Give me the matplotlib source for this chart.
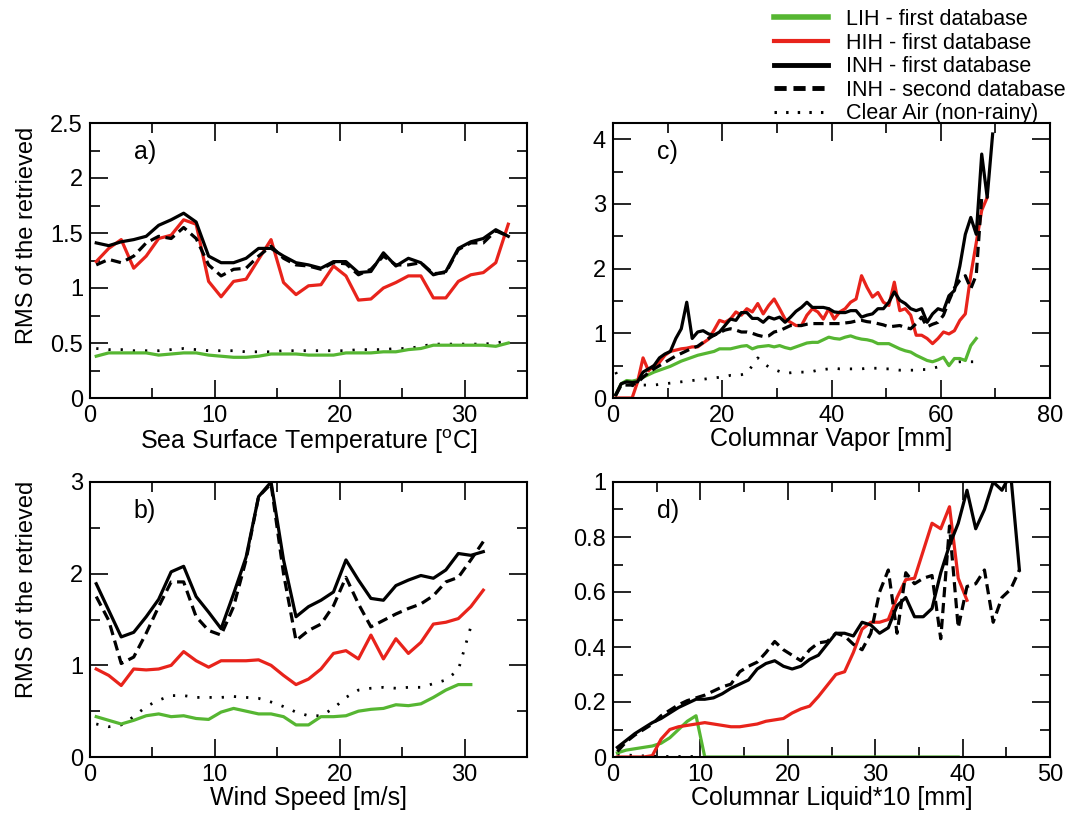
import numpy as np
import matplotlib
matplotlib.use('Agg')
import matplotlib.pyplot as plt
from matplotlib.ticker import MultipleLocator, FormatStrFormatter
from matplotlib.lines import Line2D

plt.rcParams['font.family'] = ['Liberation Sans', 'DejaVu Sans']
plt.rcParams['mathtext.fontset'] = 'custom'
plt.rcParams['mathtext.rm'] = 'Liberation Sans'

nan = np.nan

# Panel a) Sea surface temperature bins (1 degC, centred)
sst = np.arange(0.5, 34.0, 1.0)
a_lih = [0.38, 0.41, 0.41, 0.41, 0.41, 0.39, 0.40, 0.41, 0.41, 0.39, 0.38, 0.37,
         0.37, 0.38, 0.40, 0.40, 0.40, 0.39, 0.39, 0.39, 0.41, 0.41, 0.41, 0.42,
         0.42, 0.44, 0.45, 0.48, 0.48, 0.48, 0.48, 0.48, 0.47, 0.50]
a_hih = [1.24, 1.36, 1.44, 1.18, 1.29, 1.45, 1.48, 1.62, 1.58, 1.06, 0.92, 1.06,
         1.08, 1.26, 1.44, 1.05, 0.94, 1.02, 1.03, 1.20, 1.11, 0.89, 0.90, 1.00,
         1.05, 1.11, 1.11, 0.91, 0.91, 1.06, 1.12, 1.14, 1.23, 1.58]
a_inh1 = [1.41, 1.385, 1.42, 1.44, 1.47, 1.57, 1.62, 1.68, 1.60, 1.29, 1.23, 1.23,
          1.27, 1.36, 1.36, 1.29, 1.23, 1.21, 1.18, 1.24, 1.24, 1.14, 1.15, 1.32,
          1.20, 1.27, 1.23, 1.12, 1.15, 1.36, 1.42, 1.45, 1.53, 1.47]
a_inh2 = [1.21, 1.26, 1.23, 1.29, 1.41, 1.47, 1.45, 1.55, 1.45, 1.21, 1.11, 1.17,
          1.18, 1.29, 1.38, 1.27, 1.21, 1.20, 1.17, 1.23, 1.22, 1.12, 1.17, 1.29,
          1.21, 1.21, 1.23, 1.13, 1.14, 1.35, 1.41, 1.41, 1.52, 1.47]
a_clear = [0.45, 0.44, 0.44, 0.43, 0.43, 0.43, 0.44, 0.45, 0.44, 0.43, 0.43, 0.43,
           0.42, 0.42, 0.42, 0.43, 0.43, 0.43, 0.43, 0.43, 0.43, 0.44, 0.44, 0.44,
           0.45, 0.45, 0.47, 0.49, 0.49, 0.49, 0.49, 0.49, 0.50, 0.52]

# Panel b) Wind speed bins
ws = np.arange(0.5, 32.0, 1.0)
b_lih = [0.44, 0.40, 0.36, 0.40, 0.45, 0.47, 0.44, 0.45, 0.42, 0.41, 0.49, 0.53,
         0.50, 0.47, 0.47, 0.44, 0.35, 0.35, 0.44, 0.44, 0.45, 0.50, 0.52, 0.53,
         0.57, 0.56, 0.58, 0.65, 0.73, 0.79, 0.79, nan]
b_hih = [0.96, 0.89, 0.78, 0.96, 0.95, 0.96, 1.00, 1.15, 1.05, 0.98, 1.05, 1.05,
         1.05, 1.06, 1.00, 0.89, 0.79, 0.85, 0.96, 1.13, 1.16, 1.07, 1.33, 1.07,
         1.29, 1.13, 1.25, 1.45, 1.47, 1.51, 1.64, 1.82]
b_inh1 = [1.89, 1.60, 1.31, 1.36, 1.53, 1.72, 2.02, 2.08, 1.75, 1.58, 1.40, 1.78,
          2.18, 2.84, 3.00, 2.15, 1.53, 1.64, 1.71, 1.80, 2.15, 1.93, 1.73, 1.71,
          1.87, 1.93, 1.98, 1.95, 2.04, 2.22, 2.20, 2.24]
b_inh2 = [1.75, 1.49, 1.02, 1.09, 1.35, 1.64, 1.91, 1.91, 1.53, 1.38, 1.33, 1.64,
          2.15, 2.84, 2.98, 2.00, 1.27, 1.38, 1.45, 1.65, 1.96, 1.67, 1.42, 1.49,
          1.56, 1.62, 1.67, 1.76, 1.91, 1.96, 2.15, 2.35]
b_clear = [0.36, 0.33, 0.35, 0.44, 0.55, 0.62, 0.67, 0.67, 0.65, 0.65, 0.65, 0.66,
           0.65, 0.64, 0.60, 0.55, 0.49, 0.45, 0.45, 0.53, 0.65, 0.73, 0.75, 0.76,
           0.75, 0.76, 0.76, 0.80, 0.84, 0.95, 1.42, nan]

# Panel c) Columnar vapor bins
cv = np.arange(0.5, 70.0, 1.0)
c_lih = [0.05, 0.22, 0.27, 0.26, 0.28, 0.32, 0.36, 0.40, 0.43, 0.46, 0.49, 0.53,
         0.57, 0.60, 0.63, 0.66, 0.68, 0.70, 0.72, 0.76, 0.76, 0.76, 0.78, 0.80,
         0.81, 0.76, 0.79, 0.80, 0.81, 0.79, 0.81, 0.78, 0.76, 0.79, 0.82, 0.85,
         0.86, 0.86, 0.90, 0.94, 0.92, 0.91, 0.94, 0.96, 0.93, 0.91, 0.90, 0.88,
         0.84, 0.84, 0.84, 0.80, 0.76, 0.73, 0.71, 0.66, 0.62, 0.58, 0.56, 0.59,
         0.63, 0.50, 0.61, 0.61, 0.58, 0.81, 0.92, nan, nan, nan]
c_hih = [0.0, 0.0, 0.0, 0.0, 0.25, 0.62, 0.42, 0.50, 0.55, 0.66, 0.72, 0.74,
         0.76, 0.77, 0.79, 0.79, 0.85, 0.91, 1.05, 1.20, 1.17, 1.22, 1.33, 1.28,
         1.38, 1.33, 1.46, 1.30, 1.43, 1.53, 1.38, 1.22, 1.17, 1.12, 1.12, 1.28,
         1.38, 1.33, 1.22, 1.38, 1.22, 1.33, 1.38, 1.48, 1.53, 1.89, 1.71, 1.56,
         1.63, 1.48, 1.43, 1.79, 1.35, 1.38, 1.28, 0.97, 0.97, 0.92, 0.84, 0.92,
         1.02, 0.99, 1.04, 1.20, 1.30, 1.90, 2.40, 2.90, 3.10, nan]
c_inh1 = [0.05, 0.22, 0.25, 0.24, 0.25, 0.40, 0.45, 0.50, 0.62, 0.68, 0.72, 0.92,
          1.07, 1.48, 0.92, 1.02, 1.04, 0.99, 0.97, 1.02, 1.12, 1.22, 1.20, 1.32,
          1.32, 1.23, 1.23, 1.17, 1.25, 1.22, 1.25, 1.17, 1.25, 1.34, 1.40, 1.48,
          1.40, 1.40, 1.40, 1.38, 1.33, 1.32, 1.32, 1.35, 1.35, 1.25, 1.28, 1.30,
          1.38, 1.38, 1.48, 1.64, 1.51, 1.46, 1.38, 1.35, 1.38, 1.17, 1.30, 1.38,
          1.35, 1.58, 1.66, 2.04, 2.53, 2.79, 2.53, 3.77, 3.10, 4.08]
c_inh2 = [0.04, 0.20, 0.20, 0.20, 0.24, 0.32, 0.39, 0.45, 0.50, 0.55, 0.60, 0.65,
          0.69, 0.73, 0.77, 0.80, 0.86, 0.92, 0.97, 1.01, 1.05, 1.07, 1.05, 1.02,
          1.02, 1.00, 0.97, 0.95, 0.96, 1.02, 1.04, 1.08, 1.12, 1.12, 1.12, 1.14,
          1.15, 1.15, 1.15, 1.15, 1.15, 1.15, 1.16, 1.17, 1.19, 1.20, 1.18, 1.17,
          1.15, 1.13, 1.10, 1.11, 1.12, 1.09, 1.07, 1.15, 1.25, 1.10, 1.14, 1.17,
          1.28, 1.50, 1.70, 1.82, 1.89, 1.69, 1.90, 3.10, nan, nan]
c_clear = [0.40, 0.20, 0.20, 0.19, 0.19, 0.20, 0.20, 0.20, 0.21, 0.22, 0.23, 0.24,
           0.25, 0.26, 0.27, 0.28, 0.29, 0.30, 0.31, 0.32, 0.33, 0.35, 0.35, 0.36,
           0.38, 0.50, 0.62, 0.54, 0.48, 0.44, 0.41, 0.38, 0.39, 0.40, 0.40, 0.40,
           0.41, 0.43, 0.44, 0.45, 0.46, 0.45, 0.45, 0.45, 0.45, 0.45, 0.46, 0.46,
           0.46, 0.45, 0.45, 0.44, 0.43, 0.43, 0.43, 0.43, 0.44, 0.44, 0.46, 0.48,
           0.51, 0.53, 0.55, 0.56, 0.56, 0.56, 0.56, nan, nan, nan]

# Panel d) Columnar liquid*10 bins
cl = np.arange(0.5, 47.0, 1.0)
d_lih = [0.015, 0.025, 0.03, 0.035, 0.04, 0.05, 0.07, 0.10, 0.13, 0.15, 0.0, 0.0,
         0.0, 0.0, 0.0, 0.0, 0.0, 0.0, 0.0, 0.0, 0.0, 0.0, 0.0, 0.0,
         0.0, 0.0, 0.0, 0.0, 0.0, 0.0, 0.0, 0.0, 0.0, 0.0, 0.0, 0.0,
         0.0, 0.0, 0.0, 0.0, nan, nan, nan, nan, nan, nan, nan]
d_hih = [0.0, 0.0, 0.0, 0.0, 0.005, 0.065, 0.10, 0.11, 0.115, 0.12, 0.125, 0.12,
         0.115, 0.11, 0.11, 0.115, 0.12, 0.13, 0.135, 0.14, 0.16, 0.175, 0.185, 0.22,
         0.26, 0.30, 0.31, 0.38, 0.465, 0.49, 0.49, 0.50, 0.58, 0.645, 0.65, 0.75,
         0.85, 0.83, 0.91, 0.65, 0.57, nan, nan, nan, nan, nan, nan]
d_inh1 = [0.035, 0.06, 0.085, 0.105, 0.125, 0.14, 0.16, 0.18, 0.195, 0.21, 0.21, 0.215,
          0.23, 0.25, 0.265, 0.28, 0.32, 0.34, 0.35, 0.33, 0.32, 0.33, 0.355, 0.37,
          0.41, 0.45, 0.45, 0.44, 0.49, 0.48, 0.45, 0.47, 0.55, 0.58, 0.51, 0.51,
          0.54, 0.67, 0.77, 0.85, 0.97, 0.83, 0.90, 1.00, 0.97, 1.03, 0.68]
d_inh2 = [0.02, 0.055, 0.08, 0.10, 0.12, 0.15, 0.17, 0.19, 0.205, 0.215, 0.225, 0.24,
          0.255, 0.265, 0.31, 0.33, 0.345, 0.38, 0.42, 0.39, 0.37, 0.35, 0.39, 0.415,
          0.42, 0.45, 0.44, 0.41, 0.39, 0.45, 0.60, 0.68, 0.45, 0.67, 0.63, 0.65,
          0.66, 0.43, 0.84, 0.47, 0.62, 0.63, 0.68, 0.49, 0.58, 0.61, 0.68]
d_clear = [0.01, 0.008, 0.005, 0.004, 0.003, 0.002, 0.002, 0.002, 0.002, 0.002, nan, nan,
           nan, nan, nan, nan, nan, nan, nan, nan, nan, nan, nan, nan,
           nan, nan, nan, nan, nan, nan, nan, nan, nan, nan, nan, nan,
           nan, nan, nan, nan, nan, nan, nan, nan, nan, nan, nan]

green = '#56b632'
red = '#e8231b'
lw = 2.3
dash = (0, (3.2, 1.8))
dots = (0, (0.8, 3.6))

fig = plt.figure(figsize=(10.67, 8.16), dpi=100)

W = 437 / 1067
H = 275 / 816
axa = fig.add_axes([90 / 1067, (816 - 398) / 816, W, H])
axb = fig.add_axes([90 / 1067, (816 - 757) / 816, W, H])
axc = fig.add_axes([613 / 1067, (816 - 398) / 816, W, H])
axd = fig.add_axes([613 / 1067, (816 - 757) / 816, W, H])

panels = [
    (axa, sst, a_lih, a_hih, a_inh1, a_inh2, a_clear),
    (axb, ws, b_lih, b_hih, b_inh1, b_inh2, b_clear),
    (axc, cv, c_lih, c_hih, c_inh1, c_inh2, c_clear),
    (axd, cl, d_lih, d_hih, d_inh1, d_inh2, d_clear),
]
for ax, x, lih, hih, inh1, inh2, clear in panels:
    ax.plot(x, clear, color='black', lw=2.0, ls=dots)
    ax.plot(x, lih, color=green, lw=lw)
    ax.plot(x, hih, color=red, lw=lw)
    ax.plot(x, inh2, color='black', lw=lw, ls=dash)
    ax.plot(x, inh1, color='black', lw=lw)

# axis ranges and ticks
setup = [
    (axa, 35, 10, 5, 2.5, 0.5, 0.25, 'a)', 'Sea Surface Temperature [$^{\\mathrm{o}}$C]'),
    (axb, 35, 10, 5, 3.0, 1.0, 0.5, 'b)', 'Wind Speed [m/s]'),
    (axc, 80, 20, 10, 4.25, 1.0, 0.5, 'c)', 'Columnar Vapor [mm]'),
    (axd, 50, 10, 5, 1.0, 0.2, 0.1, 'd)', 'Columnar Liquid*10 [mm]'),
]
for ax, xmax, xmaj, xmin, ymax, ymaj, ymin, tag, xlab in setup:
    ax.set_xlim(0, xmax)
    ax.set_ylim(0, ymax)
    ax.xaxis.set_major_locator(MultipleLocator(xmaj))
    ax.xaxis.set_minor_locator(MultipleLocator(xmin))
    ax.yaxis.set_major_locator(MultipleLocator(ymaj))
    ax.yaxis.set_minor_locator(MultipleLocator(ymin))
    ax.yaxis.set_major_formatter(FormatStrFormatter('%g'))
    ax.tick_params(which='both', direction='in', top=True, right=True,
                   labelsize=17, width=1.2, pad=5)
    ax.tick_params(which='major', length=13)
    ax.tick_params(which='minor', length=7)
    for s in ax.spines.values():
        s.set_linewidth(1.5)
    ax.set_xlabel(xlab, fontsize=18, labelpad=0)
    ax.text(0.10, 0.895, tag, transform=ax.transAxes, fontsize=18,
            ha='left', va='center')

axa.set_ylabel('RMS of the retrieved', fontsize=17)
axb.set_ylabel('RMS of the retrieved', fontsize=17)
axa.yaxis.set_label_coords(-0.118, 0.59)
axb.yaxis.set_label_coords(-0.118, 0.61)

handles = [
    Line2D([], [], color=green, lw=4),
    Line2D([], [], color=red, lw=3),
    Line2D([], [], color='black', lw=3.5),
    Line2D([], [], color='black', lw=3.5, ls=(0, (2.5, 1.4))),
    Line2D([], [], color='black', lw=2.2, ls=(0, (0.8, 3.0))),
]
labels = ['LIH - first database', 'HIH - first database', 'INH - first database',
          'INH - second database', 'Clear Air (non-rainy)']
fig.legend(handles, labels, loc='upper left', bbox_to_anchor=(774 / 1067, 0.989),
           frameon=False, fontsize=15.5, handlelength=2.5, handletextpad=0.85,
           labelspacing=0.12, borderpad=0, borderaxespad=0)

fig.savefig('out.png', dpi=100)
